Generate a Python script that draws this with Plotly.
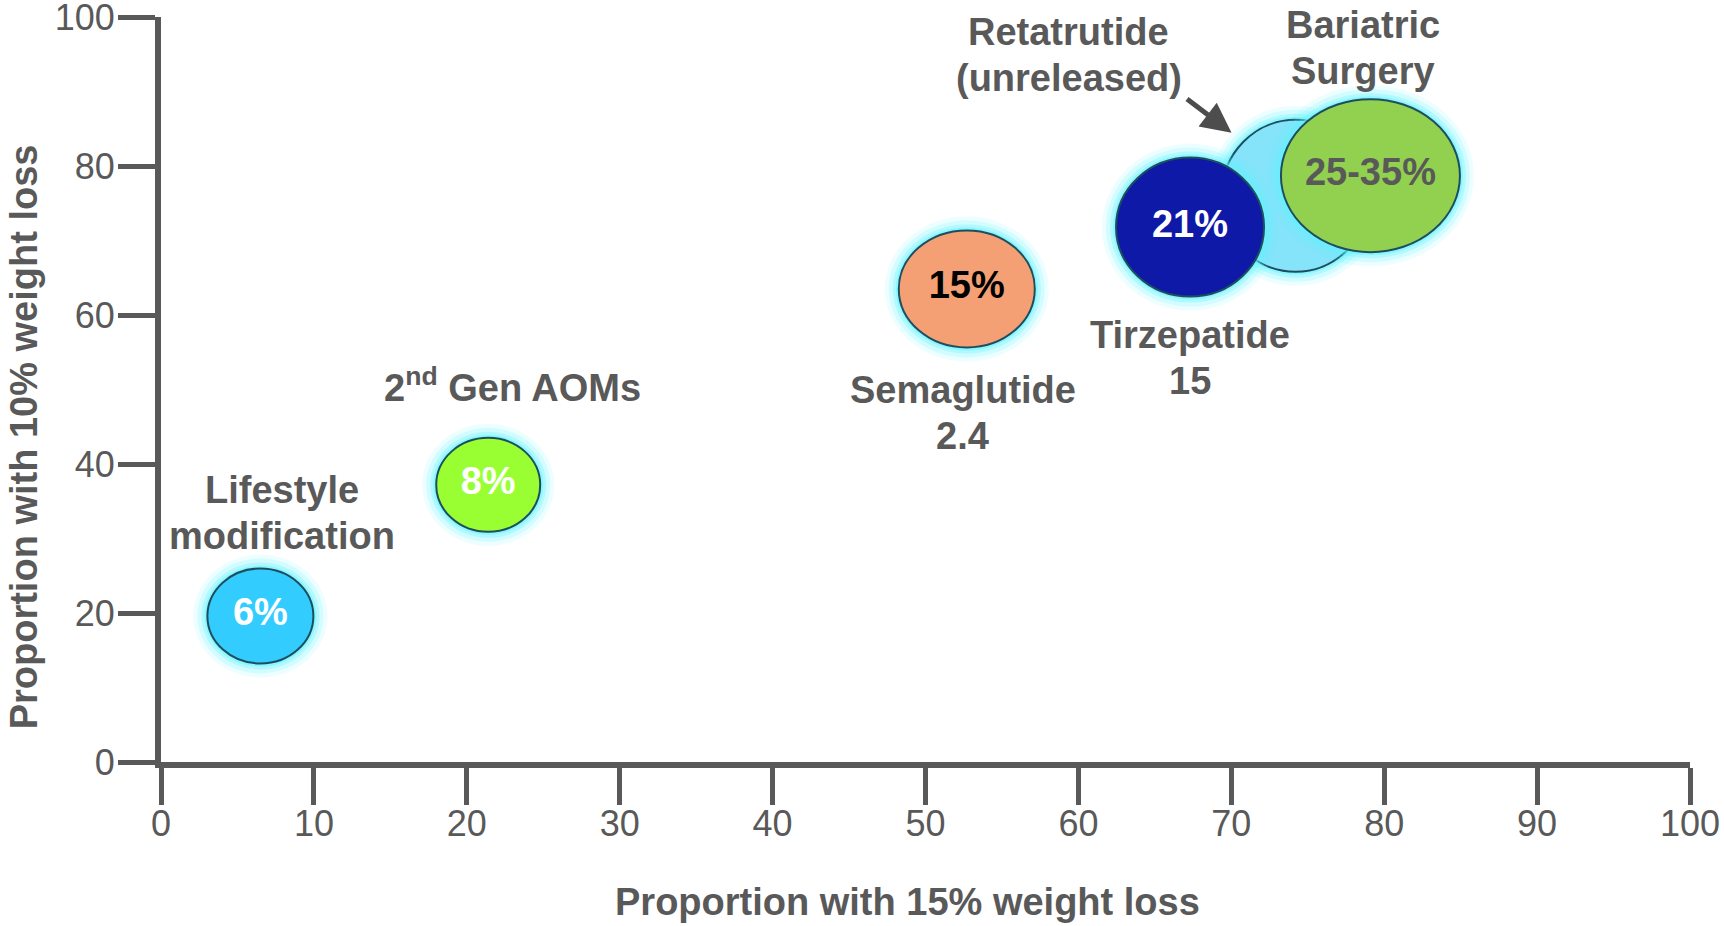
import plotly.graph_objects as go

# ---------------- data ----------------
treatments = ["Lifestyle<br>modification", "2<sup>nd</sup> Gen AOMs", "Semaglutide<br>2.4",
              "Retatrutide<br>(unreleased)", "Tirzepatide<br>15", "Bariatric<br>Surgery"]
pct_15_loss = [6.5, 21.4, 52.7, 74.2, 67.3, 79.1]      # x: proportion with 15% weight loss
pct_10_loss = [19.6, 37.2, 63.5, 76.0, 71.8, 78.7]     # y: proportion with 10% weight loss
bubble_text = ["6%", "8%", "15%", "", "21%", "25-35%"]
x_ticks = list(range(0, 101, 10))
y_ticks = list(range(0, 101, 20))
x_title = "Proportion with 15% weight loss"
y_title = "Proportion with 10% weight loss"

# ---------------- styles ----------------
fill_colors = ["#33CCFF", "#99FF33", "#F4A074", "#85E3FA", "#0F19A8", "#92D050"]
text_colors = ["#FFFFFF", "#FFFFFF", "#000000", "#FFFFFF", "#FFFFFF", "#595959"]
bubble_w = [106, 104, 136, 148, 148, 179]   # px
bubble_h = [95, 94, 117, 152, 139, 153]     # px
# label offsets (px) relative to bubble centre
label_dx = [22, 24, -4, -227, 0, -7]
label_dy = [103, 100, -124, 141, -131, 128]
LINE_STEP = 46  # px between label lines

GREY = "#595959"
FONT = "Liberation Sans, Arial, sans-serif"
GLOW = "#5FF3FF"
OUTLINE = "#1E4E5E"

fig = go.Figure()

shapes = []
for i in range(len(pct_15_loss)):
    for pad, op in [(14, 0.12), (10, 0.18), (6, 0.3), (3, 0.45)]:
        shapes.append(dict(
            type="circle", layer="below", xref="x", yref="y",
            xsizemode="pixel", ysizemode="pixel",
            xanchor=pct_15_loss[i], yanchor=pct_10_loss[i],
            x0=-(bubble_w[i] / 2 + pad), x1=bubble_w[i] / 2 + pad,
            y0=-(bubble_h[i] / 2 + pad), y1=bubble_h[i] / 2 + pad,
            fillcolor=GLOW, opacity=op, line=dict(width=0)))
    shapes.append(dict(
        type="circle", layer="below", xref="x", yref="y",
        xsizemode="pixel", ysizemode="pixel",
        xanchor=pct_15_loss[i], yanchor=pct_10_loss[i],
        x0=-bubble_w[i] / 2, x1=bubble_w[i] / 2,
        y0=-bubble_h[i] / 2, y1=bubble_h[i] / 2,
        fillcolor=fill_colors[i], line=dict(color=OUTLINE, width=2)))

fig.add_trace(go.Scatter(
    x=pct_15_loss, y=pct_10_loss, mode="text", text=bubble_text,
    textfont=dict(family=FONT, size=38, color=text_colors, weight="bold"),
    textposition="middle center", hoverinfo="skip", showlegend=False,
    cliponaxis=False))

label_font = dict(family=FONT, size=38, color=GREY, weight="bold")
annotations = []
for i in range(len(treatments)):
    lines = treatments[i].split("<br>")
    n = len(lines)
    for j, line in enumerate(lines):
        annotations.append(dict(
            x=pct_15_loss[i], y=pct_10_loss[i], xref="x", yref="y",
            text=line, showarrow=False,
            xshift=label_dx[i],
            yshift=label_dy[i] + (n - 1) / 2 * LINE_STEP - j * LINE_STEP,
            font=label_font, align="center", xanchor="center", yanchor="middle"))

# arrow pointing to Retatrutide bubble
annotations.append(dict(
    x=pct_15_loss[3], y=pct_10_loss[3], xref="x", yref="y",
    xshift=-64, yshift=63, ax=-46, ay=-35, text="", showarrow=True,
    arrowhead=2, arrowsize=1.2, arrowwidth=5, arrowcolor="#4D4D4D", standoff=0))

# axis titles
annotations.append(dict(x=0.488, y=-0.188, xref="paper", yref="paper", text=x_title,
                        showarrow=False, font=label_font, xanchor="center", yanchor="middle"))
annotations.append(dict(x=-0.089, y=0.437, xref="paper", yref="paper", text=y_title,
                        showarrow=False, font=label_font, textangle=-90,
                        xanchor="center", yanchor="middle"))

axis_common = dict(
    showline=True, linewidth=6, linecolor=GREY, mirror=False,
    ticks="outside", ticklen=37, tickwidth=5, tickcolor=GREY,
    showgrid=False, zeroline=False, automargin=False, ticklabeloverflow="allow",
    tickfont=dict(family=FONT, size=36, color=GREY))

fig.update_layout(
    width=1724, height=926,
    margin=dict(l=161, r=34, t=17, b=164),
    paper_bgcolor="white", plot_bgcolor="white",
    shapes=shapes, annotations=annotations,
    xaxis=dict(range=[0, 100], tickvals=x_ticks, ticklabelstandoff=-12, **axis_common),
    yaxis=dict(range=[0, 100], tickvals=y_ticks, ticklabelstandoff=-4, **axis_common),
)

fig.write_html("out.html", config={"displayModeBar": False},
               post_script="document.body.style.margin='0';")
